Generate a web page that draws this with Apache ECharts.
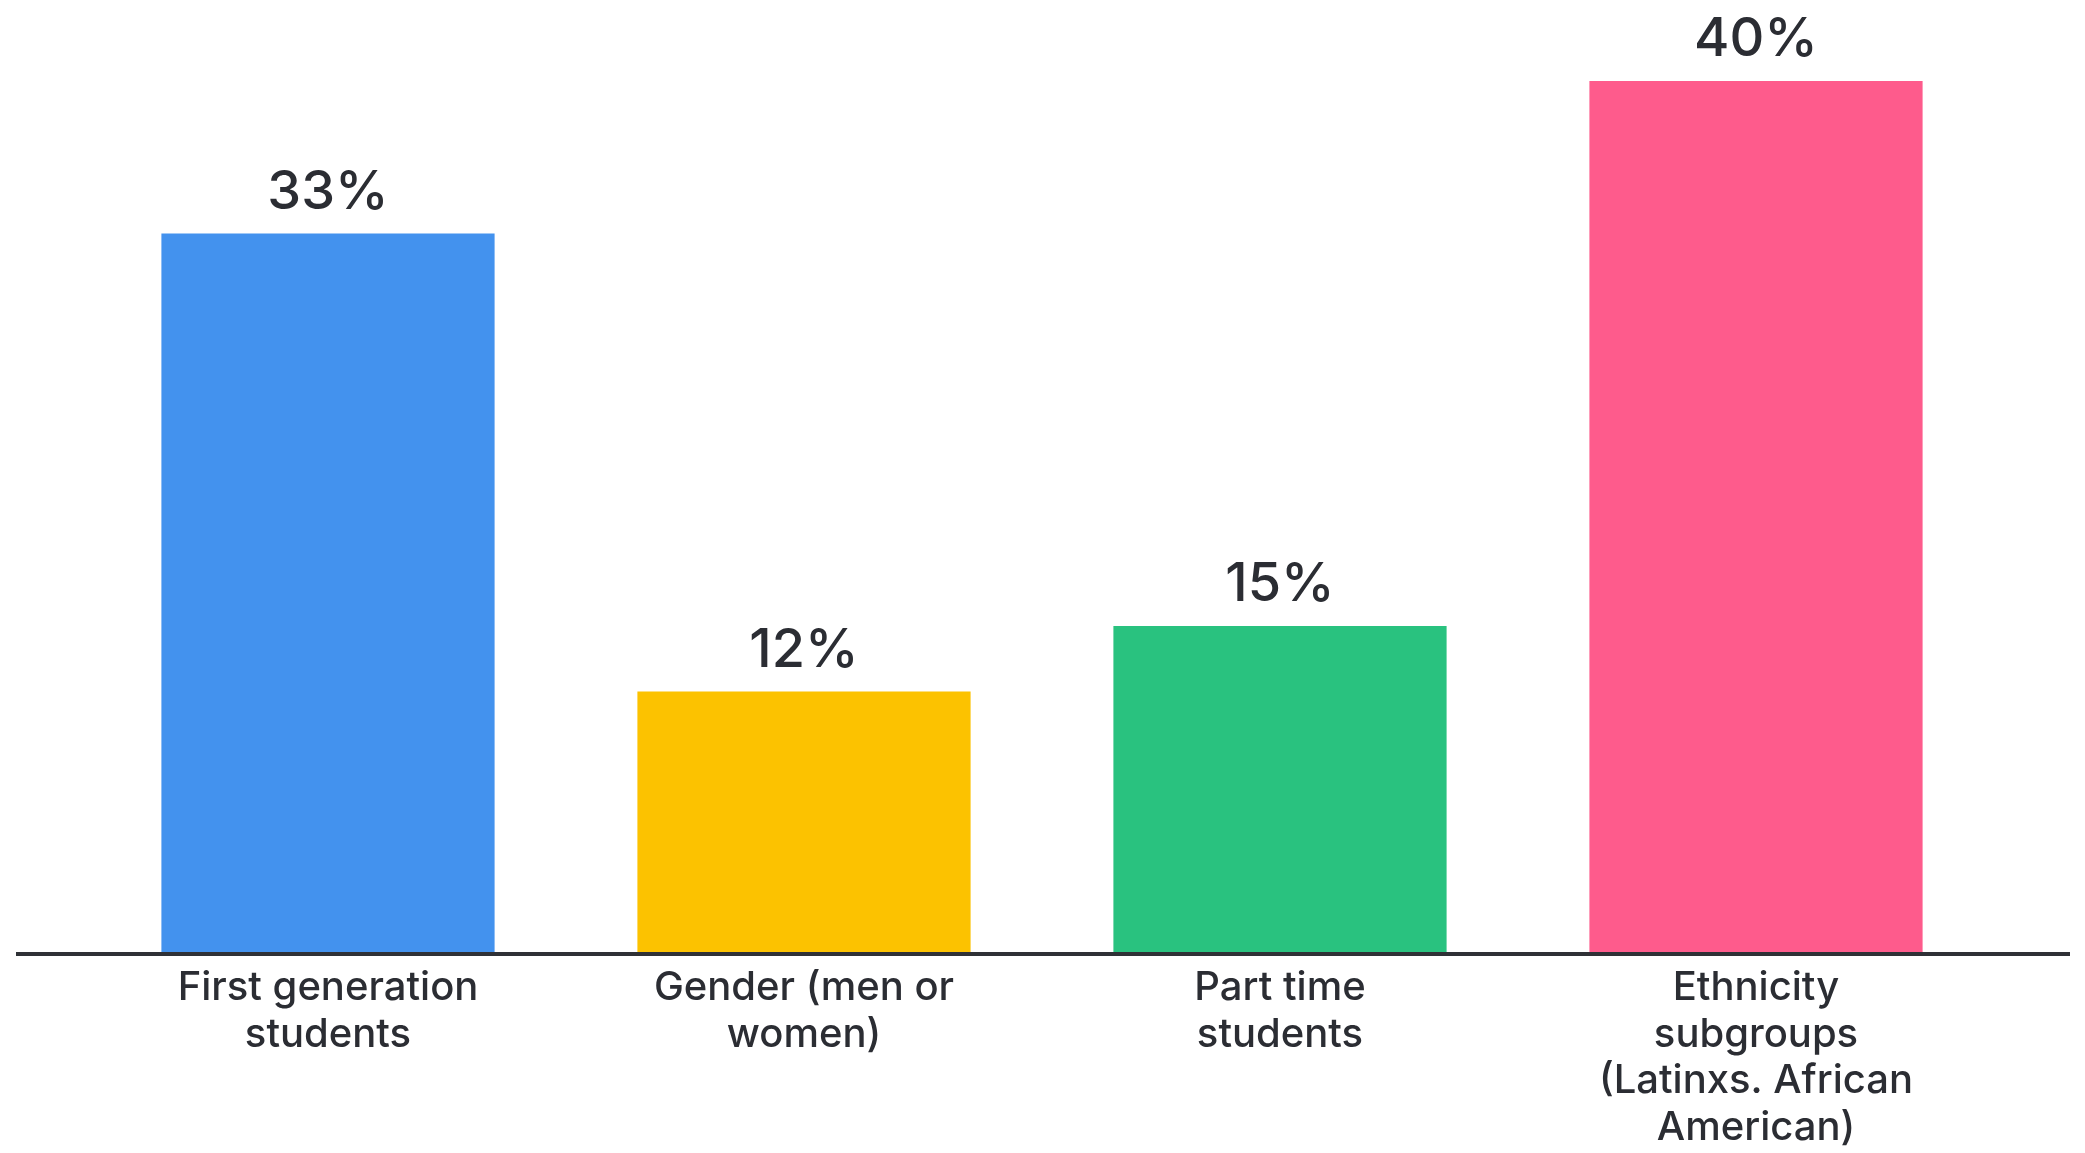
<!DOCTYPE html>
<html>
<head>
<meta charset="utf-8">
<style>
html,body{margin:0;padding:0;background:#ffffff;}
#chart{width:2085px;height:1153px;}
</style>
<script src="https://cdn.jsdelivr.net/npm/echarts@6/dist/echarts.min.js"></script>
</head>
<body>
<div id="chart"></div>
<script>
const categories = [
  "First generation\nstudents",
  "Gender (men or\nwomen)",
  "Part time\nstudents",
  "Ethnicity\nsubgroups\n(Latinxs. African\nAmerican)"
];
const values = [33, 12, 15, 40];
const colors = ["#4392ee", "#fcc200", "#29c27f", "#fe5b8c"];

const chart = echarts.init(document.getElementById('chart'), null, {renderer: 'canvas'});
const textColor = '#2b2d33';
const option = {
  animation: false,
  backgroundColor: '#ffffff',
  grid: {left: 90, right: 91, top: 81, bottom: 200, containLabel: false},
  xAxis: {
    type: 'category',
    data: categories,
    axisLine: {show: false},
    axisTick: {show: false},
    axisLabel: {
      color: textColor,
      fontFamily: 'Inter',
      fontWeight: 500,
      fontSize: 40,
      lineHeight: 46.5,
      margin: 12,
      interval: 0
    }
  },
  yAxis: {
    type: 'value',
    min: 0,
    max: 40,
    show: false,
    splitLine: {show: false}
  },
  graphic: [{
    type: 'line',
    shape: {x1: 16, y1: 954, x2: 2070, y2: 954},
    style: {stroke: '#2f3136', lineWidth: 4},
    z: 10
  }],
  series: [{
    type: 'bar',
    barWidth: '70%',
    data: values.map((v, i) => ({value: v, itemStyle: {color: colors[i]}})),
    label: {
      show: true,
      position: 'top',
      distance: 14,
      formatter: '{c}%',
      color: textColor,
      fontFamily: 'Inter',
      fontWeight: 500,
      fontSize: 54
    }
  }]
};
chart.setOption(option);
</script>
</body>
</html>
